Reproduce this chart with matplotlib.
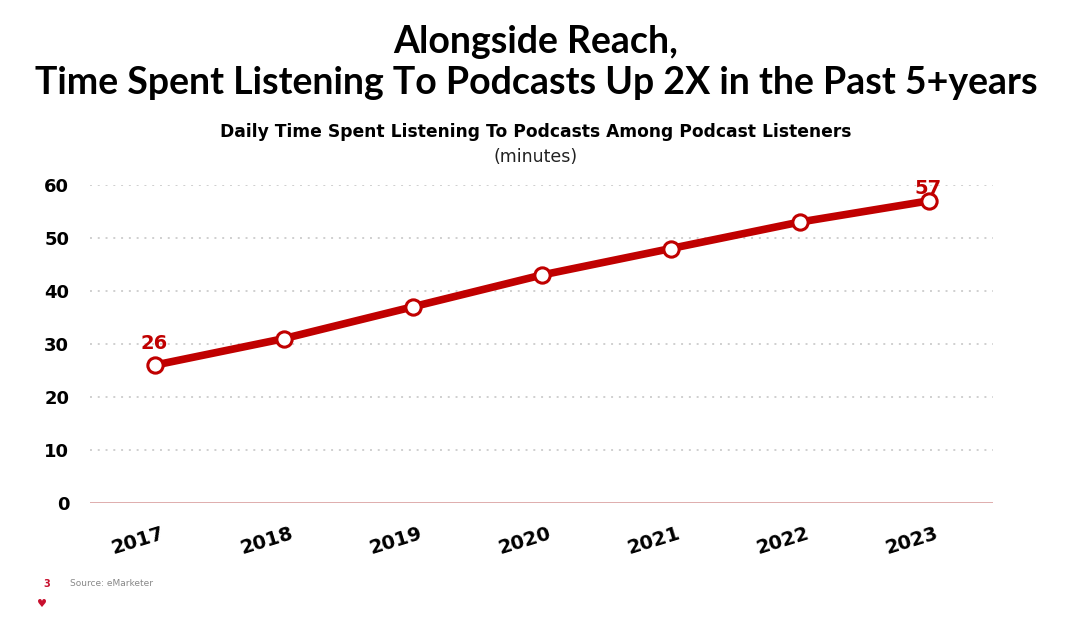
import matplotlib
matplotlib.use("Agg")
import matplotlib.pyplot as plt
from matplotlib.transforms import ScaledTranslation

years = ["2017", "2018", "2019", "2020", "2021", "2022", "2023"]
minutes = [26, 31, 37, 43, 48, 53, 57]
yticks = [0, 10, 20, 30, 40, 50, 60]
labeled = {0: "26", 6: "57"}

RED = "#c00000"
plt.rcParams['font.family'] = ['DejaVu Sans']

fig = plt.figure(figsize=(10.72, 6.28), dpi=100)
ax = fig.add_axes([90/1072, 1-503/628, (993-90)/1072, (503-185)/628])

x = list(range(len(years)))
ax.plot(x, minutes, color=RED, lw=5.5, marker='o', ms=11, mfc='white',
        mec=RED, mew=2.2, zorder=5, clip_on=False, solid_capstyle='round')
offsets = {0: 9, 6: 2}
for i, t in labeled.items():
    ax.annotate(t, (x[i], minutes[i]), xytext=(0, offsets[i]), textcoords='offset points',
                ha='center', va='bottom', color=RED, fontsize=14, fontweight='bold', zorder=6)

ax.set_xlim(-0.5, len(years) - 0.5)
ax.set_ylim(0, 60)
ax.set_yticks(yticks)
ax.set_xticks(x)
ax.set_xticklabels([])
shift = ScaledTranslation(-17/100, -38/100, fig.dpi_scale_trans)
for xi, lab in zip(x, years):
    ax.text(xi, 0, lab, transform=ax.get_xaxis_transform() + shift,
            rotation=17, ha='center', va='center', fontsize=14, fontweight='bold')
for lbl in ax.get_yticklabels():
    lbl.set_fontsize(13)
    lbl.set_fontweight('bold')
ax.tick_params(axis='both', length=0)
ax.tick_params(axis='y', pad=15)
for s in ax.spines.values():
    s.set_visible(False)
for v in yticks[1:]:
    ax.axhline(v, color='#cfcfcf', lw=1.4, ls=(0, (1, 3)), zorder=1)
ax.axhline(0, color='#d9a0a0', lw=1.2, zorder=2)

fig.text(0.5, 1-42/628, "Alongside Reach,", ha='center', va='center',
         fontsize=27, fontweight='bold', family=['Lato', 'DejaVu Sans'])
fig.text(0.5, 1-83/628, "Time Spent Listening To Podcasts Up 2X in the Past 5+years",
         ha='center', va='center', fontsize=27, fontweight='bold',
         family=['Lato', 'DejaVu Sans'])
fig.text(0.5, 1-132/628, "Daily Time Spent Listening To Podcasts Among Podcast Listeners",
         ha='center', va='center', fontsize=12.3, fontweight='bold')
fig.text(0.5, 1-157/628, "(minutes)", ha='center', va='center', fontsize=12.5, color='#222222')

fig.text(47/1072, 1-584/628, "3", ha='center', va='center', fontsize=7,
         fontweight='bold', color='#c8102e')
fig.text(70/1072, 1-584/628, "Source: eMarketer", ha='left', va='center',
         fontsize=6.5, color='#888888')
fig.text(42/1072, 1-604/628, "♥", ha='center', va='center', fontsize=8,
         color='#c8102e')

fig.savefig("out.png", dpi=100, facecolor='white')
